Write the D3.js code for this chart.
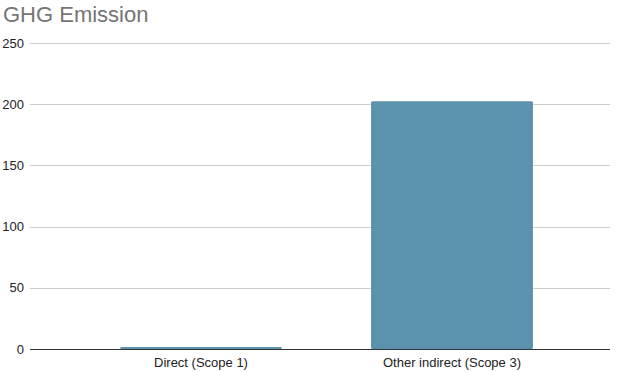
<!DOCTYPE html>
<html>
<head>
<script src="https://d3js.org/d3.v7.min.js"></script>
<style>
  body { margin: 0; background: #fff; }
  text { font-family: "Liberation Sans", Arial, sans-serif; }
</style>
</head>
<body>
<div id="chart"></div>
<script>
var categories = ["Direct (Scope 1)", "Other indirect (Scope 3)"];
var values = [1.6, 202.5];
var yTicks = [0, 50, 100, 150, 200, 250];

var width = 624, height = 372;
var plotLeft = 30, plotRight = 610, plotTop = 43, plotBottom = 349;

var svg = d3.select("#chart")
  .append("svg")
    .attr("width", width)
    .attr("height", height);

svg.append("text")
  .attr("x", 3)
  .attr("y", 22)
  .attr("fill", "#757575")
  .style("font-size", "22px")
  .text("GHG Emission");

var y = d3.scaleLinear()
  .domain([0, 250])
  .range([plotBottom, plotTop]);

var x = d3.scaleBand()
  .domain(categories)
  .range([75.5, 577.5])
  .paddingInner(0.355)
  .paddingOuter(0.1775);

// gridlines
svg.append("g")
  .selectAll("line")
  .data(yTicks.slice(1))
  .enter()
  .append("line")
    .attr("x1", plotLeft)
    .attr("x2", plotRight)
    .attr("y1", function(d) { return Math.round(y(d)) + 0.5; })
    .attr("y2", function(d) { return Math.round(y(d)) + 0.5; })
    .attr("stroke", "#cccccc");

svg.append("g")
  .selectAll("text")
  .data(yTicks)
  .enter()
  .append("text")
    .attr("x", 24)
    .attr("y", function(d) { return y(d) + 4.5; })
    .attr("text-anchor", "end")
    .style("font-size", "13px")
    .attr("fill", "#222")
    .text(function(d) { return d; });

svg.selectAll("rect.bar")
  .data(values)
  .enter()
  .append("rect")
    .attr("class", "bar")
    .attr("x", function(d, i) { return x(categories[i]); })
    .attr("y", function(d) { return y(d); })
    .attr("width", x.bandwidth())
    .attr("height", function(d) { return plotBottom - y(d); })
    .attr("rx", 1.5)
    .attr("fill", "#5b93ae");

// baseline
svg.append("line")
  .attr("x1", plotLeft)
  .attr("x2", plotRight)
  .attr("y1", plotBottom + 0.5)
  .attr("y2", plotBottom + 0.5)
  .attr("stroke", "#333");

svg.append("g")
  .selectAll("text")
  .data(categories)
  .enter()
  .append("text")
    .attr("x", function(d) { return x(d) + x.bandwidth() / 2; })
    .attr("y", 367)
    .attr("text-anchor", "middle")
    .style("font-size", "13px")
    .attr("fill", "#222")
    .text(function(d) { return d; });
</script>
</body>
</html>
